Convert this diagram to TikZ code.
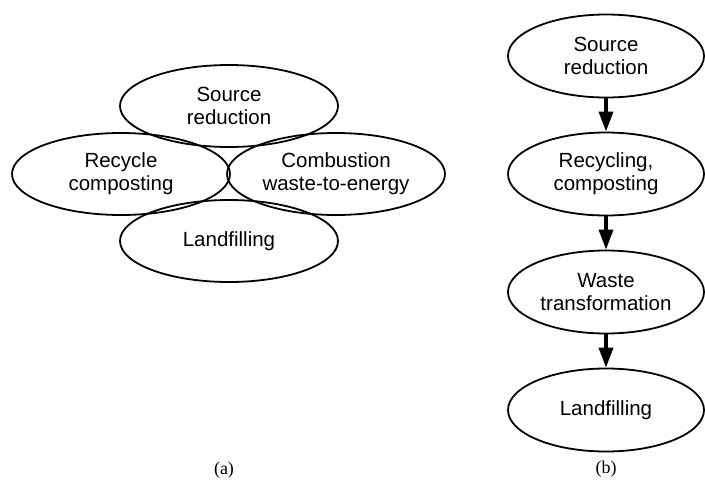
\documentclass[tikz,border=0pt]{standalone}
\usepackage{fontspec}
\setmainfont{Liberation Sans}
\newfontfamily\capfont{Liberation Serif}
\usetikzlibrary{arrows.meta,shapes.geometric}
\begin{document}
\begin{tikzpicture}[x=1pt,y=-1pt,
  oval/.style={ellipse, draw, line width=1.8pt, minimum width=218pt, minimum height=82pt,
    inner sep=0pt, align=center, font=\fontsize{20.5}{23}\selectfont},
  ovalb/.style={oval, minimum width=196pt, minimum height=83pt},
  flow/.style={line width=3.5pt, -{Triangle[length=20pt,width=14pt]}},
  caplabel/.style={font=\capfont\fontsize{18}{20}\selectfont}]
\useasboundingbox (0,0) rectangle (705,480);
% (a)
\node[oval] (src) at (229,106) {Source\\reduction};
\node[oval] (rec) at (121,174) {Recycle\\composting};
\node[oval] (com) at (336,174) {Combustion\\waste-to-energy};
\node[oval] (lan) at (229,241) {Landfilling};
\node[caplabel] (capa) at (224,470) {(a)};
% (b)
\node[ovalb] (b1) at (606,56) {Source\\reduction};
\node[ovalb] (b2) at (606,174) {Recycling,\\composting};
\node[ovalb] (b3) at (606,292) {Waste\\transformation};
\node[ovalb] (b4) at (606,410) {Landfilling};
\node[caplabel] (capb) at (606,469) {(b)};
\draw[flow] (b1) -- (b2);
\draw[flow] (b2) -- (b3);
\draw[flow] (b3) -- (b4);
\end{tikzpicture}
\end{document}
